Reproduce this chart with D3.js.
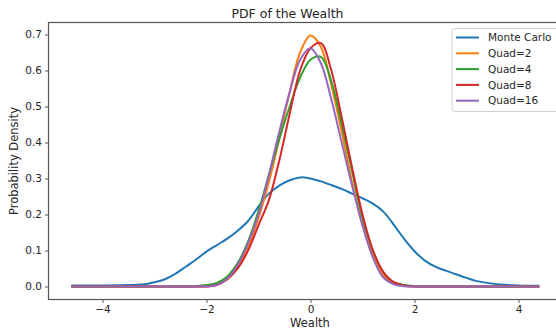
<!DOCTYPE html>
<html>
<head>
<meta charset="utf-8">
<script src="https://cdn.jsdelivr.net/npm/d3@7"></script>
<style>
  body { margin: 0; background: #fff; }
  text { font-family: "DejaVu Sans", sans-serif; fill: #262626; }
</style>
</head>
<body>
<div id="chart"></div>
<script>
// x grid shared by every curve
var wealth = [-4.6, -4.0, -3.5, -3.2, -3.0, -2.8, -2.6, -2.4, -2.2, -2.0, -1.8, -1.6, -1.4, -1.2, -1.0,
    -0.8, -0.6, -0.4, -0.2, 0.0, 0.2, 0.4, 0.6, 0.8, 1.0, 1.2, 1.4, 1.6, 1.8, 2.0, 2.2, 2.4, 2.6,
    2.8, 3.0, 3.2, 3.5, 4.0, 4.4];

var monteCarlo = [0.003, 0.003, 0.004, 0.006, 0.012, 0.02, 0.035, 0.055, 0.075, 0.097, 0.115, 0.133, 0.155, 0.182, 0.222,
    0.258, 0.28, 0.295, 0.303, 0.300, 0.292, 0.282, 0.271, 0.258, 0.245, 0.23, 0.208, 0.172, 0.132, 0.098, 0.072, 0.055, 0.044,
    0.034, 0.024, 0.015, 0.008, 0.003, 0.002];
var quad2 = [0, 0, 0, 0, 0, 0, 0, 0, 0, 0.001, 0.006, 0.02, 0.055, 0.11, 0.19,
    0.29, 0.41, 0.54, 0.65, 0.697, 0.665, 0.56, 0.43, 0.29, 0.17, 0.085, 0.03, 0.008, 0.002, 0, 0, 0, 0,
    0, 0, 0, 0, 0, 0];
var quad4 = [0, 0, 0, 0, 0, 0, 0, 0, 0.001, 0.004, 0.01, 0.028, 0.065, 0.125, 0.21,
    0.31, 0.41, 0.50, 0.58, 0.63, 0.638, 0.57, 0.45, 0.32, 0.19, 0.1, 0.04, 0.012, 0.004, 0.001, 0, 0, 0,
    0, 0, 0, 0, 0, 0];
var quad8 = [0, 0, 0, 0, 0, 0, 0, 0, 0, 0, 0.004, 0.02, 0.05, 0.1, 0.17,
    0.24, 0.35, 0.48, 0.6, 0.662, 0.676, 0.6, 0.47, 0.33, 0.2, 0.1, 0.04, 0.012, 0.003, 0, 0, 0, 0,
    0, 0, 0, 0, 0, 0];
var quad16 = [0, 0, 0, 0, 0, 0, 0, 0, 0, 0, 0.004, 0.022, 0.06, 0.12, 0.2,
    0.31, 0.43, 0.54, 0.63, 0.662, 0.62, 0.52, 0.4, 0.28, 0.17, 0.08, 0.025, 0.006, 0.001, 0, 0, 0, 0,
    0, 0, 0, 0, 0, 0];

var seriesNames = ["Monte Carlo", "Quad=2", "Quad=4", "Quad=8", "Quad=16"];
var seriesValues = [monteCarlo, quad2, quad4, quad8, quad16];
var colors = ["#1f77b4", "#ff7f0e", "#2ca02c", "#d62728", "#9467bd"];
var xTicks = [-4, -2, 0, 2, 4];
var yTicks = [0.0, 0.1, 0.2, 0.3, 0.4, 0.5, 0.6, 0.7];

var w = 556, h = 331;
var frame = { left: 48.5, top: 22.5, right: 566, bottom: 299.5 };

var svg = d3.select("#chart").append("svg")
    .attr("width", w)
    .attr("height", h);

var xScale = d3.scaleLinear().domain([-4, 4]).range([102.5, 518.5]);
var yScale = d3.scaleLinear().domain([0, 0.7]).range([286.5, 34.5]);

// curves
var line = d3.line()
    .x(function(d) { return xScale(d[0]); })
    .y(function(d) { return yScale(d[1]); })
    .curve(d3.curveCatmullRom.alpha(0.5));

seriesValues.forEach(function(vals, i) {
    svg.append("path")
        .datum(wealth.map(function(x, j) { return [x, vals[j]]; }))
        .attr("fill", "none")
        .attr("stroke", colors[i])
        .attr("stroke-width", 2)
        .attr("stroke-linejoin", "round")
        .attr("d", line);
});

// frame
svg.append("rect")
    .attr("x", frame.left)
    .attr("y", frame.top)
    .attr("width", frame.right - frame.left)
    .attr("height", frame.bottom - frame.top)
    .attr("fill", "none")
    .attr("stroke", "#555")
    .attr("stroke-width", 1.2);

// x axis
var xAxis = svg.append("g")
    .attr("transform", "translate(0," + frame.bottom + ")")
    .call(d3.axisBottom(xScale).tickValues(xTicks).tickSize(3.5).tickPadding(3)
        .tickFormat(function(d) { return d < 0 ? "\u2212" + Math.abs(d) : d; }));
xAxis.select(".domain").remove();
xAxis.selectAll("line").attr("stroke", "#555");
xAxis.selectAll("text").attr("font-size", 10.5).attr("font-family", "DejaVu Sans").attr("fill", "#262626");

// y axis
var yAxis = svg.append("g")
    .attr("transform", "translate(" + frame.left + ",0)")
    .call(d3.axisLeft(yScale).tickValues(yTicks).tickSize(3.5).tickPadding(3)
        .tickFormat(d3.format(".1f")));
yAxis.select(".domain").remove();
yAxis.selectAll("line").attr("stroke", "#555");
yAxis.selectAll("text").attr("font-size", 10.5).attr("font-family", "DejaVu Sans").attr("fill", "#262626");

// labels
svg.append("text")
    .attr("x", 287.5)
    .attr("y", 18)
    .attr("text-anchor", "middle")
    .attr("font-size", 12.5)
    .text("PDF of the Wealth");

svg.append("text")
    .attr("x", 310)
    .attr("y", 327)
    .attr("text-anchor", "middle")
    .attr("font-size", 11.5)
    .text("Wealth");

svg.append("text")
    .attr("transform", "translate(18,161) rotate(-90)")
    .attr("text-anchor", "middle")
    .attr("font-size", 11.5)
    .text("Probability Density");

// legend
var legend = svg.append("g").attr("transform", "translate(452,28.5)");
legend.append("rect")
    .attr("width", 120)
    .attr("height", 83)
    .attr("rx", 2.5)
    .attr("fill", "#fff")
    .attr("fill-opacity", 0.8)
    .attr("stroke", "#d0d0d0");

seriesNames.forEach(function(name, i) {
    var y = 9 + i * 15.8;
    legend.append("line")
        .attr("x1", 4).attr("x2", 27)
        .attr("y1", y).attr("y2", y)
        .attr("stroke", colors[i])
        .attr("stroke-width", 2);
    legend.append("text")
        .attr("x", 36)
        .attr("y", y)
        .attr("dy", "0.35em")
        .attr("font-size", 10.5)
        .text(name);
});
</script>
</body>
</html>
